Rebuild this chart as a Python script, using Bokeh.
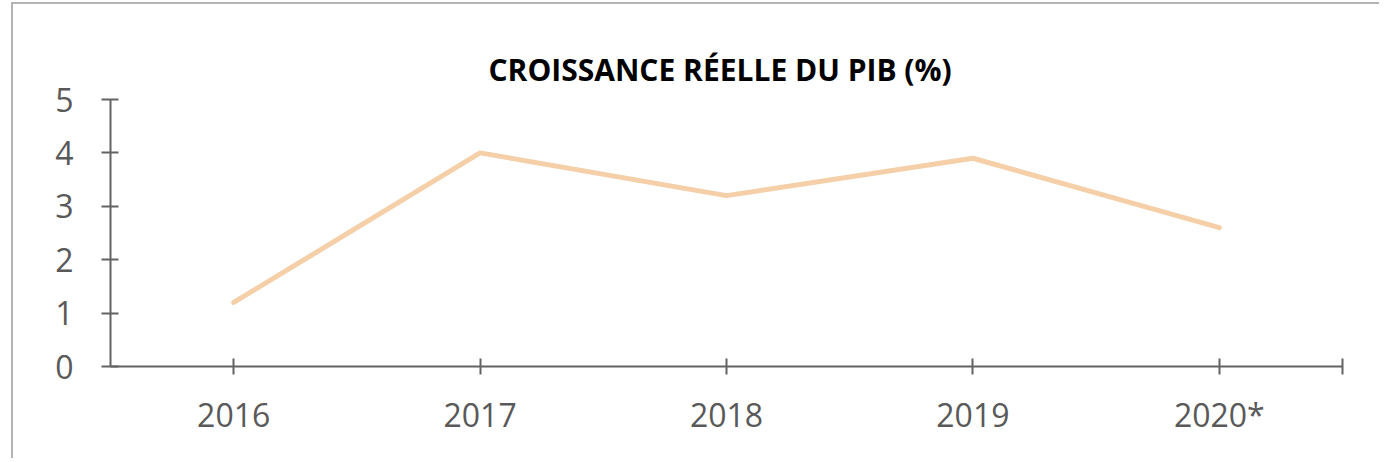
from bokeh.plotting import figure
from bokeh.models import Range1d, FixedTicker
from bokeh.embed import file_html
from bokeh.resources import INLINE

years = ["2016", "2017", "2018", "2019", "2020*"]
growth = [1.2, 4.0, 3.2, 3.9, 2.6]
y_ticks = [0, 1, 2, 3, 4, 5]
title_text = "CROISSANCE RÉELLE DU PIB (%)"

xs = [i + 0.5 for i in range(len(years))]

W, H = 1368, 456
p = figure(width=W, height=H, output_backend="svg", toolbar_location=None,
           x_range=Range1d(0, len(years)), y_range=Range1d(0, 5),
           min_border_left=97, min_border_right=39, min_border_top=95, min_border_bottom=94,
           title=title_text)
p.styles = {"border-left": "2px solid #b4b4b4", "border-top": "2px solid #b4b4b4",
            "margin-left": "11px", "margin-top": "2px"}
p.outline_line_color = None
p.grid.visible = False
p.background_fill_color = "white"
p.border_fill_color = "white"

p.title.align = "left"
p.title.offset = 378
p.title.text_font = "Open Sans"
p.title.text_font_style = "bold"
p.title.text_font_size = "30px"
p.title.text_color = "#000000"
p.title.standoff = 20

p.line(xs, growth, line_color="#F4CFA7", line_width=5, line_cap="round", line_join="round")

axis_color = "#636363"
label_color = "#595959"
for ax in (p.xaxis[0], p.yaxis[0]):
    ax.axis_line_color = axis_color
    ax.axis_line_width = 2
    ax.major_tick_line_color = axis_color
    ax.major_tick_line_width = 2
    ax.minor_tick_line_color = None
    ax.major_label_text_font = "Open Sans"
    ax.major_label_text_font_size = "32px"
    ax.major_label_text_color = label_color

p.xaxis.ticker = FixedTicker(ticks=xs + [len(years)])
p.xaxis.major_label_overrides = {**{x: y for x, y in zip(xs, years)}, len(years): ""}
p.xaxis.major_tick_in = 8
p.xaxis.major_tick_out = 8
p.xaxis.major_label_standoff = 18

p.yaxis.ticker = FixedTicker(ticks=y_ticks)
p.yaxis.major_tick_in = 8
p.yaxis.major_tick_out = 9
p.yaxis.major_label_standoff = 28

open("out.html", "w").write(file_html(p, INLINE))
